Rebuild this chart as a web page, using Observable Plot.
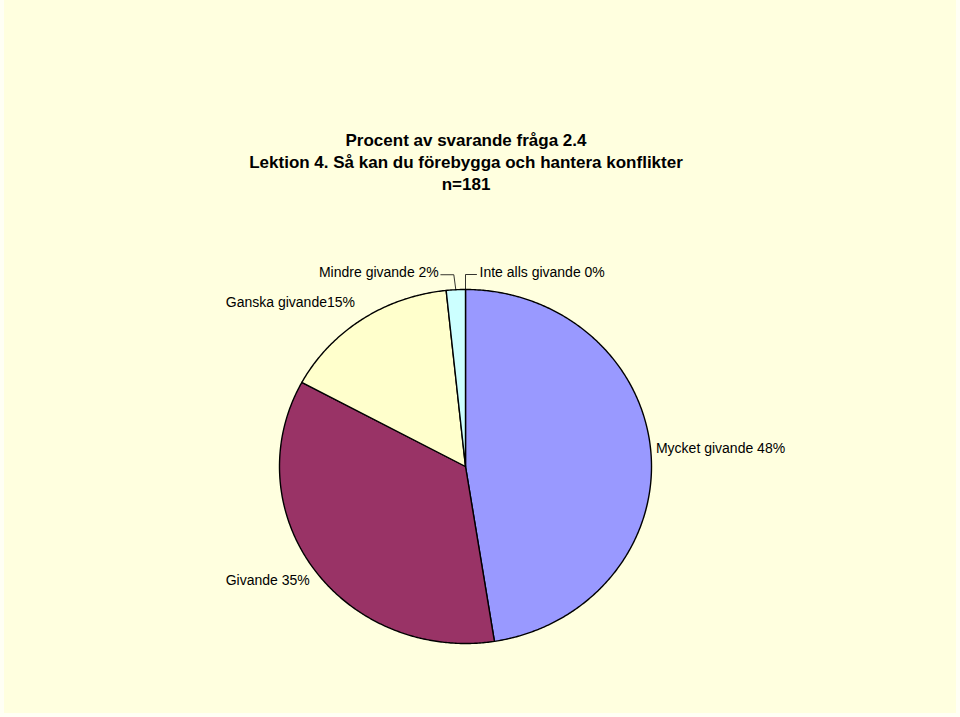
<!DOCTYPE html>
<html>
<head>
<meta charset="utf-8">
<script src="https://cdn.jsdelivr.net/npm/d3@7"></script>
<script src="https://cdn.jsdelivr.net/npm/@observablehq/plot@0.6"></script>
<style>
  html, body { margin: 0; padding: 0; background: #FFFFF4; }
  #page { position: relative; width: 960px; height: 717px; overflow: hidden; }
  #bg { position: absolute; left: 4px; top: 0; width: 952px; height: 713px; background: #FFFFDF; }
  #title { position: absolute; left: 0; top: 130px; width: 932px; text-align: center;
    font: bold 17px "Liberation Sans", Arial, sans-serif; line-height: 22px; color: #000; }
  #chart { position: absolute; left: 0; top: 0; }
  #chart svg { background: transparent; }
</style>
</head>
<body>
<div id="page">
  <div id="bg"></div>
  <div id="title">Procent av svarande fråga 2.4<br>Lektion 4. Så kan du förebygga och hantera konflikter<br>n=181</div>
  <div id="chart"></div>
</div>
<script>
// ---- data ----
const categories = ["Mycket givande", "Givande", "Ganska givande", "Mindre givande", "Inte alls givande"];
const counts = [86, 64, 28, 3, 0];
const labelTexts = ["Mycket givande 48%", "Givande 35%", "Ganska givande15%", "Mindre givande 2%", "Inte alls givande 0%"];
const sliceColors = ["#9999FF", "#993366", "#FFFFCC", "#CCFFFF", "#660066"];

// ---- layout (pixels) ----
const W = 960, H = 717;
const cx = 465, cy = 466, rx = 186, ry = 177;
const labelLayout = {
  "Mycket givande":    {anchor: "start", dx: 5,   dy: -4},
  "Givande":           {anchor: "end",   dx: -4,  dy: 12},
  "Ganska givande":    {anchor: "end",   dx: -7,  dy: -17},
  "Mindre givande":    {anchor: "end",   dx: -17, dy: -17, leader: [[-2, -15], [-15, -15]]},
  "Inte alls givande": {anchor: "start", dx: 14,  dy: -17, leader: [[0, -15], [11, -15]]}
};

// ---- geometry from data ----
const total = d3.sum(counts);
let acc = 0;
const slices = categories.map((c, i) => {
  const a0 = acc / total * 2 * Math.PI;
  acc += counts[i];
  const a1 = acc / total * 2 * Math.PI;
  return {cat: c, a0, a1, mid: (a0 + a1) / 2, label: labelTexts[i]};
});
const polyRows = [];
for (const s of slices) {
  if (s.a1 - s.a0 <= 0) continue;
  polyRows.push({cat: s.cat, x: 0, y: 0});
  const n = Math.max(2, Math.ceil((s.a1 - s.a0) / (Math.PI / 360)));
  for (let k = 0; k <= n; k++) {
    const a = s.a0 + (s.a1 - s.a0) * k / n;
    polyRows.push({cat: s.cat, x: Math.sin(a), y: Math.cos(a)});
  }
  polyRows.push({cat: s.cat, x: 0, y: 0});
}
// px offset -> data units
const ux = px => px / rx, uy = px => -px / ry;
const labelRows = slices.map(s => {
  const L = labelLayout[s.cat];
  const px = Math.sin(s.mid), py = Math.cos(s.mid);
  return {cat: s.cat, text: s.label, anchor: L.anchor,
          x: px + ux(L.dx), y: py + uy(L.dy), px, py, leader: L.leader};
});
const leaderRows = [];
for (const r of labelRows) {
  if (!r.leader) continue;
  leaderRows.push({cat: r.cat, x: r.px, y: r.py});
  for (const [dx, dy] of r.leader) leaderRows.push({cat: r.cat, x: r.px + ux(dx), y: r.py + uy(dy)});
}

const chart = Plot.plot({
  width: W, height: H, margin: 0,
  x: {domain: [-cx / rx, (W - cx) / rx], axis: null},
  y: {domain: [-(H - cy) / ry, cy / ry], axis: null},
  color: {domain: categories, range: sliceColors},
  style: {background: "transparent", overflow: "visible"},
  marks: [
    Plot.line(polyRows, {x: "x", y: "y", z: "cat", fill: "cat", stroke: "#000", strokeWidth: 1.4, strokeLinejoin: "round", curve: "linear"}),
    Plot.line(leaderRows, {x: "x", y: "y", z: "cat", stroke: "#000", strokeWidth: 0.8}),
    Plot.text(labelRows.filter(d => d.anchor === "start"), {x: "x", y: "y", text: "text", textAnchor: "start", fontSize: 14, fontFamily: "Liberation Sans, Arial, sans-serif", fill: "#000"}),
    Plot.text(labelRows.filter(d => d.anchor === "end"), {x: "x", y: "y", text: "text", textAnchor: "end", fontSize: 14, fontFamily: "Liberation Sans, Arial, sans-serif", fill: "#000"})
  ]
});
document.getElementById("chart").appendChild(chart);
</script>
</body>
</html>
